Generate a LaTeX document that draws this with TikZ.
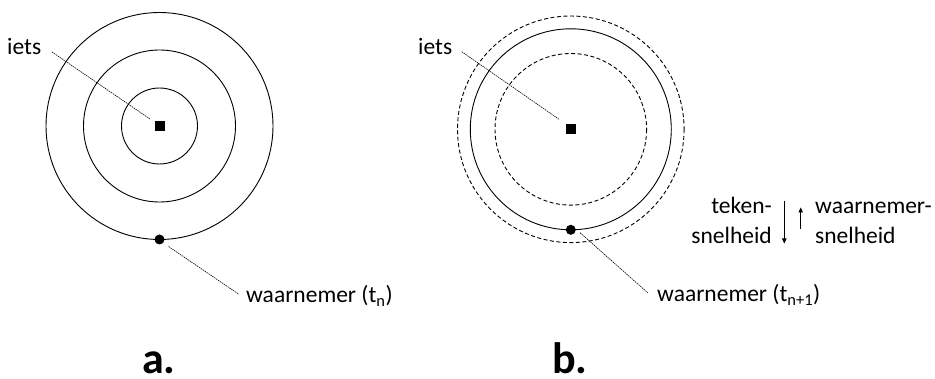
\documentclass[tikz,border=0pt]{standalone}
\usepackage{fontspec}
\setmainfont{Carlito}
\usetikzlibrary{arrows.meta}
\tikzset{
  lbl/.style={inner sep=0pt, font=\fontsize{23.5}{30}\selectfont},
  big/.style={inner sep=0pt, font=\fontsize{44}{50}\selectfont\bfseries},
  ring/.style={draw, line width=0.9pt},
  dring/.style={draw, line width=0.9pt, dash pattern=on 4pt off 2.5pt},
  leader/.style={draw, line width=0.6pt, dash pattern=on 1.5pt off 0.8pt},
  obj/.style={fill, inner sep=0pt, minimum size=10pt, rectangle},
  obs/.style={fill, circle, inner sep=0pt, minimum size=10pt},
  vel/.style={line width=0.9pt, -{Triangle[length=5pt,width=4.5pt]}}
}
\begin{document}
\begin{tikzpicture}[x=1pt,y=-1pt]
\useasboundingbox (0,0) rectangle (935,379);
% ---- a ----
\coordinate (ca) at (159.5,126);
\draw[ring] (ca) circle[radius=38];
\draw[ring] (ca) circle[radius=76];
\draw[ring] (ca) circle[radius=113.5];
\node[obj] (sa) at (ca) {};
\node[obs] (oa) at (159.5,239.5) {};
\node[lbl, anchor=base west] (ia) at (7,55) {iets};
\node[lbl, anchor=base west] (wa) at (246,303) {waarnemer (t\textsubscript{n})};
\coordinate (ia1) at (52,52);
\coordinate (ia2) at (150,119);
\coordinate (wa1) at (168.5,246.5);
\coordinate (wa2) at (238.5,294);
\draw[leader] (ia1) -- (ia2);
\draw[leader] (wa1) -- (wa2);
\node[big, anchor=base west] (la) at (142,374) {a.};
% ---- b ----
\coordinate (cb) at (570.8,129.3);
\draw[dring] (cb) circle[radius=75.8];
\draw[ring] (cb) circle[radius=100.5];
\draw[dring] (cb) circle[radius=113.3];
\node[obj] (sb) at (cb) {};
\node[obs] (ob) at (570.8,229.8) {};
\node[lbl, anchor=base west] (ib) at (418,55) {iets};
\node[lbl, anchor=base west] (wb) at (657,302) {waarnemer (t\textsubscript{n+1})};
\coordinate (ib1) at (461.7,51.7);
\coordinate (ib2) at (559,119.3);
\coordinate (wb1) at (580,232.7);
\coordinate (wb2) at (648,293);
\draw[leader] (ib1) -- (ib2);
\draw[leader] (wb1) -- (wb2);
\node[big, anchor=base west] (lb) at (552,374) {b.};
% velocities
\node[lbl, anchor=base east] (tk1) at (772,213.3) {teken-};
\node[lbl, anchor=base east] (tk2) at (772,243.3) {snelheid};
\node[lbl, anchor=base west] (wn1) at (815,213.3) {waarnemer-};
\node[lbl, anchor=base west] (wn2) at (815,243.3) {snelheid};
\coordinate (d1) at (784.3,201.5);
\coordinate (d2) at (784.3,243.5);
\coordinate (u1) at (800.7,229);
\coordinate (u2) at (800.7,207.5);
\draw[vel] (d1) -- (d2);
\draw[vel] (u1) -- (u2);
\end{tikzpicture}
\end{document}
